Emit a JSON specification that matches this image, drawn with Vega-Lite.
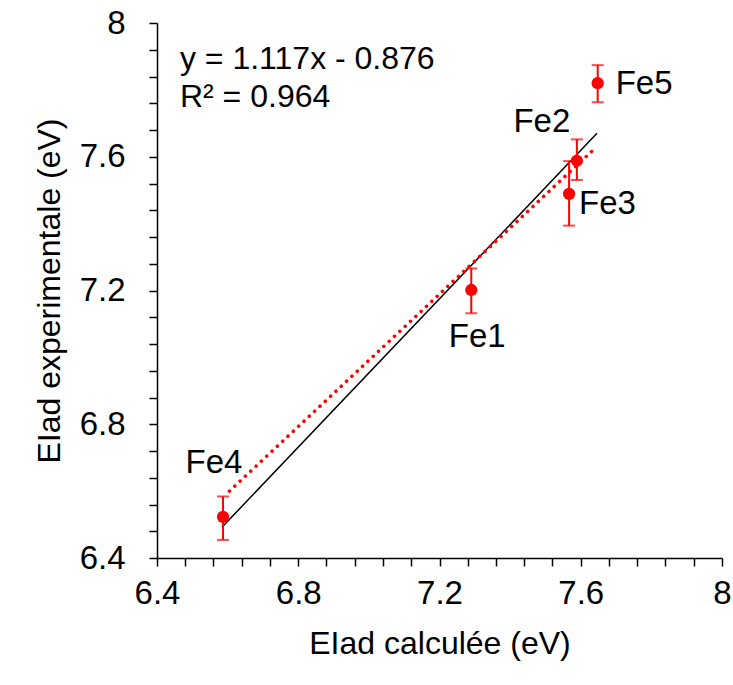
{
  "$schema": "https://vega.github.io/schema/vega-lite/v6.json",
  "width": 565,
  "height": 535,
  "autosize": {"type": "none"},
  "padding": {"left": 157, "top": 23, "right": 11, "bottom": 127},
  "background": "white",
  "config": {
    "view": {"stroke": null},
    "font": "Liberation Sans",
    "axis": {
      "grid": false,
      "domainColor": "black",
      "domainWidth": 1.5,
      "tickColor": "black",
      "tickWidth": 1.5,
      "tickSize": 8,
      "labelFont": "Liberation Sans",
      "labelFontSize": 33,
      "labelColor": "black",
      "titleFont": "Liberation Sans",
      "titleFontSize": 32,
      "titleFontWeight": "normal",
      "titleColor": "black"
    }
  },
  "datasets": {
    "points": [
      {"name": "Fe4", "calc": 6.587, "exp": 6.523, "lo": 6.454, "hi": 6.584},
      {"name": "Fe1", "calc": 7.29, "exp": 7.2016, "lo": 7.132, "hi": 7.266},
      {"name": "Fe3", "calc": 7.567, "exp": 7.489, "lo": 7.394, "hi": 7.587},
      {"name": "Fe2", "calc": 7.589, "exp": 7.588, "lo": 7.5305, "hi": 7.652},
      {"name": "Fe5", "calc": 7.648, "exp": 7.82, "lo": 7.763, "hi": 7.874}
    ],
    "fit": [
      {"calc": 6.584, "exp": 6.492},
      {"calc": 7.646, "exp": 7.67}
    ],
    "dotted": [
      {"calc": 6.605, "exp": 6.6},
      {"calc": 7.638, "exp": 7.623}
    ]
  },
  "encoding": {
    "x": {
      "type": "quantitative",
      "scale": {"domain": [6.4, 8], "nice": false, "zero": false},
      "axis": {
        "title": "EIad calculée (eV)",
        "values": [6.4, 6.48, 6.56, 6.64, 6.72, 6.8, 6.88, 6.96, 7.04, 7.12, 7.2, 7.28, 7.36, 7.44, 7.52, 7.6, 7.68, 7.76, 7.84, 7.92, 8],
        "format": "~g",
        "labelExpr": "round(datum.value*100) % 40 == 0 ? datum.label : ''",
        "labelPadding": 11,
        "titlePadding": 18,
        "labelFlush": false,
        "labelOverlap": false
      }
    },
    "y": {
      "type": "quantitative",
      "scale": {"domain": [6.4, 8], "nice": false, "zero": false},
      "axis": {
        "title": "EIad experimentale (eV)",
        "values": [6.4, 6.48, 6.56, 6.64, 6.72, 6.8, 6.88, 6.96, 7.04, 7.12, 7.2, 7.28, 7.36, 7.44, 7.52, 7.6, 7.68, 7.76, 7.84, 7.92, 8],
        "format": "~g",
        "labelExpr": "round(datum.value*100) % 40 == 0 ? datum.label : ''",
        "labelPadding": 24,
        "titlePadding": 13,
        "labelFlush": false,
        "labelOverlap": false
      }
    }
  },
  "layer": [
    {
      "data": {"name": "fit"},
      "mark": {"type": "line", "color": "black", "strokeWidth": 1.5},
      "encoding": {"x": {"field": "calc", "type": "quantitative"}, "y": {"field": "exp", "type": "quantitative"}}
    },
    {
      "data": {"name": "dotted"},
      "mark": {"type": "line", "color": "#ff0000", "strokeWidth": 3.5, "strokeDash": [0.1, 7.2], "strokeCap": "round"},
      "encoding": {"x": {"field": "calc", "type": "quantitative"}, "y": {"field": "exp", "type": "quantitative"}}
    },
    {
      "data": {"name": "points"},
      "mark": {"type": "rule", "color": "#ff0000", "strokeWidth": 2},
      "encoding": {"x": {"field": "calc", "type": "quantitative"}, "y": {"field": "lo", "type": "quantitative"}, "y2": {"field": "hi"}}
    },
    {
      "data": {"name": "points"},
      "mark": {"type": "tick", "orient": "horizontal", "color": "#ff0000", "size": 12, "thickness": 2},
      "encoding": {"x": {"field": "calc", "type": "quantitative"}, "y": {"field": "lo", "type": "quantitative"}}
    },
    {
      "data": {"name": "points"},
      "mark": {"type": "tick", "orient": "horizontal", "color": "#ff0000", "size": 12, "thickness": 2},
      "encoding": {"x": {"field": "calc", "type": "quantitative"}, "y": {"field": "hi", "type": "quantitative"}}
    },
    {
      "data": {"name": "points"},
      "mark": {"type": "circle", "color": "#ff0000", "size": 150, "opacity": 1},
      "encoding": {"x": {"field": "calc", "type": "quantitative"}, "y": {"field": "exp", "type": "quantitative"}}
    },
    {
      "data": {"name": "points"},
      "transform": [{"filter": "datum.name == 'Fe5'"}],
      "mark": {"type": "text", "fontSize": 33, "color": "black", "align": "left", "baseline": "middle", "dx": 18, "dy": 1},
      "encoding": {"x": {"field": "calc", "type": "quantitative"}, "y": {"field": "exp", "type": "quantitative"}, "text": {"field": "name"}}
    },
    {
      "data": {"name": "points"},
      "transform": [{"filter": "datum.name == 'Fe3'"}],
      "mark": {"type": "text", "fontSize": 33, "color": "black", "align": "left", "baseline": "middle", "dx": 10, "dy": 10},
      "encoding": {"x": {"field": "calc", "type": "quantitative"}, "y": {"field": "exp", "type": "quantitative"}, "text": {"field": "name"}}
    },
    {
      "data": {"name": "points"},
      "transform": [{"filter": "datum.name == 'Fe2'"}],
      "mark": {"type": "text", "fontSize": 33, "color": "black", "align": "center", "baseline": "middle", "dx": -35, "dy": -39},
      "encoding": {"x": {"field": "calc", "type": "quantitative"}, "y": {"field": "exp", "type": "quantitative"}, "text": {"field": "name"}}
    },
    {
      "data": {"name": "points"},
      "transform": [{"filter": "datum.name == 'Fe1'"}],
      "mark": {"type": "text", "fontSize": 33, "color": "black", "align": "center", "baseline": "middle", "dx": 6, "dy": 47},
      "encoding": {"x": {"field": "calc", "type": "quantitative"}, "y": {"field": "exp", "type": "quantitative"}, "text": {"field": "name"}}
    },
    {
      "data": {"name": "points"},
      "transform": [{"filter": "datum.name == 'Fe4'"}],
      "mark": {"type": "text", "fontSize": 33, "color": "black", "align": "center", "baseline": "middle", "dx": -9, "dy": -54},
      "encoding": {"x": {"field": "calc", "type": "quantitative"}, "y": {"field": "exp", "type": "quantitative"}, "text": {"field": "name"}}
    },
    {
      "data": {"values": [{"eq": "y = 1.117x - 0.876"}]},
      "mark": {"type": "text", "fontSize": 32, "color": "black", "align": "left", "baseline": "alphabetic"},
      "encoding": {
        "x": {"datum": 6.465, "type": "quantitative"},
        "y": {"datum": 7.8624, "type": "quantitative"},
        "text": {"field": "eq"}
      }
    },
    {
      "data": {"values": [{"eq": "R² = 0.964"}]},
      "mark": {"type": "text", "fontSize": 32, "color": "black", "align": "left", "baseline": "alphabetic"},
      "encoding": {
        "x": {"datum": 6.465, "type": "quantitative"},
        "y": {"datum": 7.749, "type": "quantitative"},
        "text": {"field": "eq"}
      }
    }
  ]
}
